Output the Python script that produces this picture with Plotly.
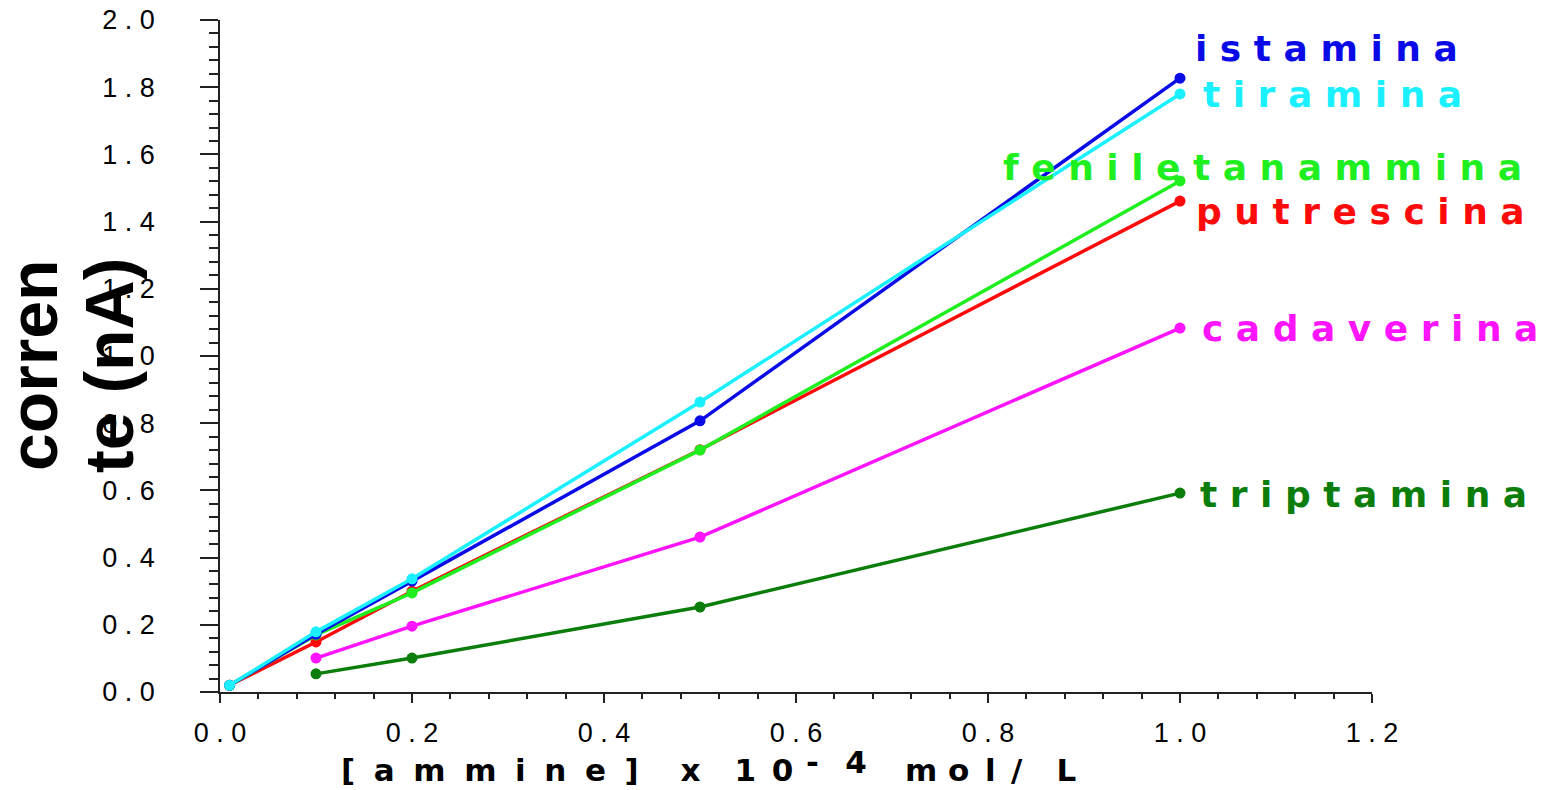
import plotly.graph_objects as go

# ---------------- data ----------------
conc_4 = [0.01, 0.1, 0.2, 0.5, 1.0]   # istamina, tiramina, feniletanammina, putrescina
conc_2 = [0.1, 0.2, 0.5, 1.0]         # cadaverina, triptamina

istamina = [0.02, 0.172, 0.330, 0.807, 1.827]
tiramina = [0.02, 0.179, 0.337, 0.863, 1.780]
feniletanammina = [0.02, 0.170, 0.295, 0.720, 1.521]
putrescina = [0.02, 0.149, 0.300, 0.721, 1.461]
cadaverina = [0.101, 0.196, 0.461, 1.083]
triptamina = [0.054, 0.101, 0.253, 0.592]

names = ["istamina", "tiramina", "feniletanammina", "putrescina", "cadaverina", "triptamina"]
label_texts = ["i s t a m i n a", "t i r a m i n a", "f e n i l e t a n a m m i n a",
               "p u t r e s c i n a", "c a d a v e r i n a", "t r i p t a m i n a"]

x_tick_vals = [0.0, 0.2, 0.4, 0.6, 0.8, 1.0, 1.2]
x_tick_labels = ["0 . 0", "0 . 2", "0 . 4", "0 . 6", "0 . 8", "1 . 0", "1 . 2"]
y_tick_vals = [0.0, 0.2, 0.4, 0.6, 0.8, 1.0, 1.2, 1.4, 1.6, 1.8, 2.0]
y_tick_labels = ["0 . 0", "0 . 2", "0 . 4", "0 . 6", "0 . 8", "1 . 0", "1 . 2",
                 "1 . 4", "1 . 6", "1 . 8", "2 . 0"]

# ---------------- styles ----------------
colors = {
    "istamina": "#0a0ae6",
    "tiramina": "#1af0ff",
    "feniletanammina": "#1fee1f",
    "putrescina": "#ff0a0a",
    "cadaverina": "#ff14ff",
    "triptamina": "#0b7d0b",
}
series = {
    "istamina": (conc_4, istamina),
    "tiramina": (conc_4, tiramina),
    "feniletanammina": (conc_4, feniletanammina),
    "putrescina": (conc_4, putrescina),
    "cadaverina": (conc_2, cadaverina),
    "triptamina": (conc_2, triptamina),
}
draw_order = ["triptamina", "cadaverina", "putrescina", "feniletanammina", "istamina", "tiramina"]

# label placement (layout, in axis units)
label_pos = {
    "istamina": (1.0135, 1.915),
    "tiramina": (1.0219, 1.778),
    "feniletanammina": (0.8135, 1.561),
    "putrescina": (1.0146, 1.430),
    "cadaverina": (1.0208, 1.082),
    "triptamina": (1.0188, 0.588),
}

NB = "\u00a0"
EN = "\u2002"
HS = "\u200a"

def nb(s):
    return s.replace(" ", NB)

fig = go.Figure()
for n in draw_order:
    xs, ys = series[n]
    fig.add_trace(go.Scatter(
        x=xs, y=ys, mode="lines+markers", name=n,
        line=dict(color=colors[n], width=3.5),
        marker=dict(color=colors[n], size=11, symbol="circle"),
        showlegend=False, cliponaxis=False,
    ))

for n, txt in zip(names, label_texts):
    lx, ly = label_pos[n]
    fig.add_annotation(
        x=lx, y=ly, xref="x", yref="y", text=nb(txt), showarrow=False,
        xanchor="left", yanchor="middle",
        font=dict(family="DejaVu Sans", size=36, color=colors[n], weight="bold"),
    )

# y-axis title (two rotated lines)
for txt, px in [("corren", -0.1623), ("te (nA)", -0.0964)]:
    fig.add_annotation(
        x=px, y=0.4866, xref="paper", yref="paper", text=nb(txt), showarrow=False,
        textangle=-90, xanchor="center", yanchor="middle",
        font=dict(family="Liberation Sans", size=68, color="black", weight="bold"),
    )

# x-axis title, in three pieces: base text, raised exponent, unit
G = EN + HS
title_a = G.join("[ammine]") + EN * 2 + NB + "x" + EN * 2 + HS + "1" + EN + "0"
title_b = "-" + EN + NB + "4"
title_c = "m" + NB + "o" + EN + "l" + EN + "/" + EN * 2 + HS + "L"
title_font = dict(family="DejaVu Sans", size=31, color="black", weight="bold")
for txt, px, py in [(title_a, 0.1033, -0.1463), (title_b, 0.5069, -0.1344), (title_c, 0.5929, -0.1463)]:
    fig.add_annotation(
        x=px, y=py, xref="paper", yref="paper", text=txt, showarrow=False,
        xanchor="left", yanchor="bottom", font=title_font,
    )

axis_common = dict(
    showgrid=False, zeroline=False, showline=True, linecolor="#222", linewidth=1.5,
    ticks="outside", tickcolor="#222", tickwidth=1.5, automargin=False,
    ticklabeloverflow="allow",
    tickfont=dict(family="Liberation Sans", size=27, color="black"),
)
fig.update_xaxes(
    range=[0, 1.2], tickmode="array", tickvals=x_tick_vals,
    ticktext=[nb(t) for t in x_tick_labels], ticklen=9, ticklabelstandoff=7,
    minor=dict(dtick=0.04, ticks="outside", ticklen=5, tickcolor="#222", tickwidth=1.5),
    **axis_common,
)
fig.update_yaxes(
    range=[0, 2.0], tickmode="array", tickvals=y_tick_vals,
    ticktext=[nb(t) for t in y_tick_labels], ticklen=18, ticklabelstandoff=40,
    minor=dict(dtick=0.04, ticks="outside", ticklen=9, tickcolor="#222", tickwidth=1.5),
    **axis_common,
)
fig.update_layout(
    width=1551, height=782,
    margin=dict(l=212, r=187, t=12, b=98, autoexpand=False),
    plot_bgcolor="white", paper_bgcolor="white",
)
fig.write_html("out.html")
